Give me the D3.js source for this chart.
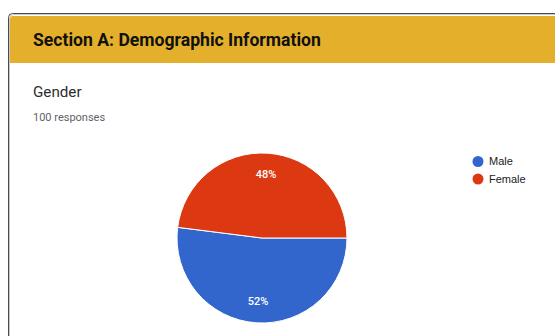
<!DOCTYPE html>
<html>
<head>
<meta charset="utf-8">
<script src="https://cdn.jsdelivr.net/npm/d3@7"></script>
<style>
  html, body { margin: 0; padding: 0; background: #fff; }
  svg { display: block; }
</style>
</head>
<body>
<svg id="chart" width="555" height="336"></svg>
<script>
// Survey question: Gender (100 responses)
const sectionTitle = "Section A: Demographic Information";
const questionTitle = "Gender";
const responseNote = "100 responses";
const categories = ["Male", "Female"];
const percentages = [52, 48];
const sliceColors = ["#3366cc", "#dc3912"];

const svg = d3.select("#chart");

// Card frame: dark outer edge with a lighter inner line
svg.append("rect")
  .attr("x", 8.5).attr("y", 13.5)
  .attr("width", 600).attr("height", 400)
  .attr("rx", 4)
  .attr("fill", "#fff")
  .attr("stroke", "#4a4a4a")
  .attr("stroke-width", 1);
svg.append("rect")
  .attr("x", 9.5).attr("y", 14.5)
  .attr("width", 600).attr("height", 400)
  .attr("rx", 4)
  .attr("fill", "none")
  .attr("stroke", "#c8c8c8")
  .attr("stroke-width", 1);

// Section header band
svg.append("path")
  .attr("d", "M10,19 Q10,16 13,16 L560,16 L560,63 L10,63 Z")
  .attr("fill", "#e4b02b");

svg.append("text")
  .attr("x", 33).attr("y", 46)
  .attr("font-family", "Roboto, sans-serif")
  .attr("font-weight", 700)
  .attr("font-size", 17.6)
  .attr("fill", "#111")
  .text(sectionTitle);

svg.append("text")
  .attr("x", 33).attr("y", 97.3)
  .attr("font-family", "Roboto, sans-serif")
  .attr("font-size", 15.2)
  .attr("fill", "#2b2d30")
  .text(questionTitle);

svg.append("text")
  .attr("x", 33).attr("y", 120.7)
  .attr("font-family", "Roboto, sans-serif")
  .attr("font-size", 11)
  .attr("fill", "#5f6368")
  .text(responseNote);

// Pie: starts at 3 o'clock, runs clockwise in data order
const cx = 262, cy = 238, radius = 85;
const pie = d3.pie()
  .sort(null)
  .startAngle(Math.PI / 2)
  .endAngle(Math.PI / 2 + 2 * Math.PI);
const arcs = pie(percentages);
const arc = d3.arc().innerRadius(0).outerRadius(radius);
const labelArc = d3.arc().innerRadius(radius * 0.75).outerRadius(radius * 0.75);

const g = svg.append("g").attr("transform", `translate(${cx},${cy})`);
g.selectAll("path.slice")
  .data(arcs)
  .join("path")
  .attr("class", "slice")
  .attr("d", arc)
  .attr("fill", (d, i) => sliceColors[i])
  .attr("stroke", "#fff")
  .attr("stroke-width", 1);

g.selectAll("text.pct")
  .data(arcs)
  .join("text")
  .attr("class", "pct")
  .attr("transform", d => `translate(${labelArc.centroid(d)})`)
  .attr("text-anchor", "middle")
  .attr("dy", "0.35em")
  .attr("font-family", "Roboto, Arial, sans-serif")
  .attr("font-weight", 500)
  .attr("font-size", 11)
  .attr("fill", "#fff")
  .text(d => `${d.data}%`);

// Legend
const legend = svg.append("g").attr("transform", "translate(478,161.5)");
const item = legend.selectAll("g")
  .data(categories)
  .join("g")
  .attr("transform", (d, i) => `translate(0,${i * 17.5})`);
item.append("circle")
  .attr("r", 5.5)
  .attr("fill", (d, i) => sliceColors[i]);
item.append("text")
  .attr("x", 11)
  .attr("dy", "0.35em")
  .attr("font-family", "Arial, 'Liberation Sans', sans-serif")
  .attr("font-size", 11)
  .attr("fill", "#222")
  .text(d => d);
</script>
</body>
</html>
